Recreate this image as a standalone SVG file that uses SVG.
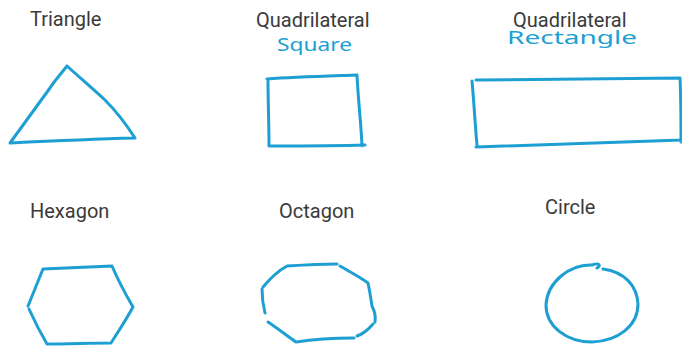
<svg xmlns="http://www.w3.org/2000/svg" width="682" height="346" viewBox="0 0 682 346">
<style>
.lbl{font-family:Roboto,"Liberation Sans",sans-serif;font-size:20px;fill:#3a3a3a}
.hand{font-family:"Noto Sans","DejaVu Sans",sans-serif;font-size:18px;fill:#1e9fd3}
.shape{fill:none;stroke:#1e9fd3;stroke-width:3;stroke-linecap:round;stroke-linejoin:round}
</style>
<rect width="682" height="346" fill="#ffffff"/>
<g id="triangle">
<text class="lbl" x="30" y="26">Triangle</text>
<path class="shape" d="M67,66 C60,75 55,80 50,88 L10,143 C50,141 95,139 135,138 C126,124 116,111 105,100 C92,88 78,76 67,66"/>
</g>
<g id="square">
<text class="lbl" x="256" y="27">Quadrilateral</text>
<text class="hand" x="277" y="51" textLength="75" lengthAdjust="spacingAndGlyphs">Square</text>
<path class="shape" d="M267,79 C295,77 330,76 357,75 C358,98 361,122 362,146 M268,80 C268,100 269,125 269,146 M270,146 C300,146 335,146 365,145"/>
</g>
<g id="rectangle">
<text class="lbl" x="513" y="27">Quadrilateral</text>
<text class="hand" x="507" y="44" textLength="130" lengthAdjust="spacingAndGlyphs">Rectangle</text>
<path class="shape" d="M476,80 C540,80 610,79 680,78 C681,98 681,120 681,142 M472,81 C474,102 475,124 477,145 M476,147 C540,145 610,142 682,140"/>
</g>
<g id="hexagon">
<text class="lbl" x="30" y="218">Hexagon</text>
<path class="shape" d="M43,269 C65,268 90,267 112,266 C118,280 126,295 133,307 C126,320 118,332 111,343 C90,343 68,344 47,344 C40,332 34,320 29,309 M28,306 C33,294 38,281 43,269"/>
</g>
<g id="octagon">
<text class="lbl" x="279" y="218">Octagon</text>
<path class="shape" d="M287,266 C303,265 320,264 337,264 M340,266 C350,272 360,277 368,283 C370,292 371,300 372,306 C375,312 376,316 375,322 M373,324 C368,330 363,334 357,336 M354,338 C335,338 315,339 296,342 C286,335 277,328 268,322 M265,313 C263,305 262,298 262,289 M263,287 C268,281 276,272 287,266"/>
</g>
<g id="circle">
<text class="lbl" x="545" y="214">Circle</text>
<path class="shape" d="M597,268 C601,266 600,262 592,265 C570,264 547,282 546,305 C546,326 566,342 592,342 C618,341 638,326 638,304 C637,286 625,272 603,269"/>
</g>
</svg>
